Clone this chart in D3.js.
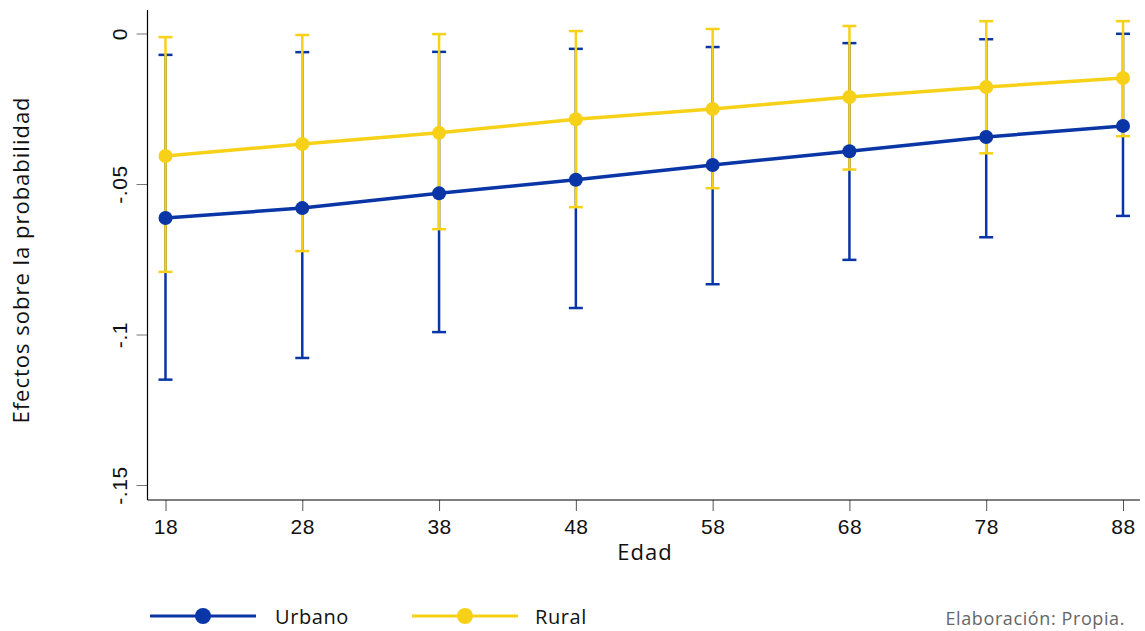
<!DOCTYPE html>
<html>
<head>
<meta charset="utf-8">
<script src="https://cdn.jsdelivr.net/npm/d3@7"></script>
<style>
  html, body { margin: 0; padding: 0; background: #fff; }
  svg { display: block; font-family: "Open Sans", Lato, sans-serif; }
</style>
</head>
<body>
<svg id="chart" width="1145" height="631"></svg>
<script>
const ages = [18, 28, 38, 48, 58, 68, 78, 88];
const urbanoEst = [-0.0613, -0.0580, -0.0531, -0.0486, -0.0437, -0.0391, -0.0344, -0.0307];
const urbanoLo  = [-0.1150, -0.1078, -0.0992, -0.0912, -0.0833, -0.0752, -0.0677, -0.0606];
const urbanoHi  = [-0.0071, -0.0062, -0.0061, -0.0051, -0.0045, -0.0032, -0.0019, -0.0001];
const ruralEst  = [-0.0407, -0.0367, -0.0330, -0.0285, -0.0251, -0.0211, -0.0178, -0.0148];
const ruralLo   = [-0.0792, -0.0723, -0.0650, -0.0577, -0.0514, -0.0452, -0.0398, -0.0341];
const ruralHi   = [-0.0012, -0.0005, -0.0002, 0.0008, 0.0015, 0.0025, 0.0041, 0.0041];
const yTicks = [0, -0.05, -0.1, -0.15];
const yTickLabels = ["0", "-.05", "-.1", "-.15"];
const seriesNames = ["Urbano", "Rural"];
const colors = ["#0a35a6", "#f7d117"];

const svg = d3.select("#chart");
const x = d3.scaleLinear().domain([18, 88]).range([165.5, 1123]);
const y = d3.scaleLinear().domain([0, -0.15]).range([33.5, 485]);

const plotLeft = 147.5, plotRight = 1140, plotTop = 10, plotBottom = 500;

// Y axis
const yAxis = svg.append("g").attr("transform", `translate(${plotLeft},0)`)
  .call(d3.axisLeft(y).tickValues(yTicks).tickFormat((d, i) => yTickLabels[i]).tickSize(11).tickPadding(0));
yAxis.select(".domain").remove();
yAxis.selectAll(".tick line").attr("stroke", "#777").attr("stroke-width", 1);
yAxis.selectAll(".tick text")
  .attr("transform", "rotate(-90)")
  .attr("x", 0).attr("y", -28)
  .attr("text-anchor", "middle")
  .attr("dy", "0.35em")
  .style("font-size", "21px").style("letter-spacing", "0.6px").style("fill", "#111");
svg.append("line").attr("x1", plotLeft).attr("x2", plotLeft).attr("y1", plotTop).attr("y2", plotBottom)
  .attr("stroke", "#000").attr("stroke-width", 1.2);

// X axis
const xAxis = svg.append("g").attr("transform", `translate(0,${plotBottom})`)
  .call(d3.axisBottom(x).tickValues(ages).tickFormat(d3.format("d")).tickSize(11).tickPadding(8));
xAxis.select(".domain").remove();
xAxis.selectAll(".tick line").attr("stroke", "#555").attr("stroke-width", 1);
xAxis.selectAll(".tick text").style("font-size", "21px").style("letter-spacing", "0.5px").style("fill", "#111");
svg.append("line").attr("x1", plotLeft).attr("x2", plotRight).attr("y1", plotBottom).attr("y2", plotBottom)
  .attr("stroke", "#000").attr("stroke-width", 1.2);

// Axis titles
svg.append("text").attr("x", 645).attr("y", 560).attr("text-anchor", "middle")
  .style("font-size", "22px").style("letter-spacing", "1px").style("fill", "#111").text("Edad");
svg.append("text").attr("transform", "translate(29,260) rotate(-90)").attr("text-anchor", "middle")
  .style("font-size", "22px").style("letter-spacing", "1px").style("fill", "#111").text("Efectos sobre la probabilidad");

const data = [
  ages.map((a, i) => ({ a, est: urbanoEst[i], lo: urbanoLo[i], hi: urbanoHi[i] })),
  ages.map((a, i) => ({ a, est: ruralEst[i], lo: ruralLo[i], hi: ruralHi[i] }))
];

[0, 1].forEach(s => {
  const g = svg.append("g");
  const c = colors[s];
  g.selectAll("line.v").data(data[s]).join("line")
    .attr("x1", d => x(d.a)).attr("x2", d => x(d.a))
    .attr("y1", d => y(d.lo)).attr("y2", d => y(d.hi))
    .attr("stroke", c).attr("stroke-width", 2.5);
  ["lo", "hi"].forEach(k => {
    g.selectAll("line.c" + k).data(data[s]).join(enter => enter.append("line").attr("class", "c" + k))
      .attr("x1", d => x(d.a) - 7).attr("x2", d => x(d.a) + 7)
      .attr("y1", d => y(d[k])).attr("y2", d => y(d[k]))
      .attr("stroke", c).attr("stroke-width", 2.5);
  });
});

const line = d3.line().x(d => x(d.a)).y(d => y(d.est));
[0, 1].forEach(s => {
  svg.append("path").datum(data[s]).attr("d", line)
    .attr("fill", "none").attr("stroke", colors[s]).attr("stroke-width", 3.5);
  svg.append("g").selectAll("circle").data(data[s]).join("circle")
    .attr("cx", d => x(d.a)).attr("cy", d => y(d.est)).attr("r", 7)
    .attr("fill", colors[s]);
});

// Legend
const legend = [{ x1: 150, x2: 256, tx: 275 }, { x1: 412, x2: 518, tx: 535 }];
legend.forEach((l, i) => {
  svg.append("line").attr("x1", l.x1).attr("x2", l.x2).attr("y1", 616).attr("y2", 616)
    .attr("stroke", colors[i]).attr("stroke-width", 3);
  svg.append("circle").attr("cx", (l.x1 + l.x2) / 2).attr("cy", 616).attr("r", 8).attr("fill", colors[i]);
  svg.append("text").attr("x", l.tx).attr("y", 617).attr("dy", "0.35em")
    .style("font-size", "20px").style("letter-spacing", "0.6px").style("fill", "#111").text(seriesNames[i]);
});
svg.append("text").attr("x", 1125).attr("y", 619).attr("dy", "0.35em").attr("text-anchor", "end")
  .style("font-size", "18px").style("letter-spacing", "0.6px").style("fill", "#666").text("Elaboración: Propia.");
</script>
</body>
</html>
